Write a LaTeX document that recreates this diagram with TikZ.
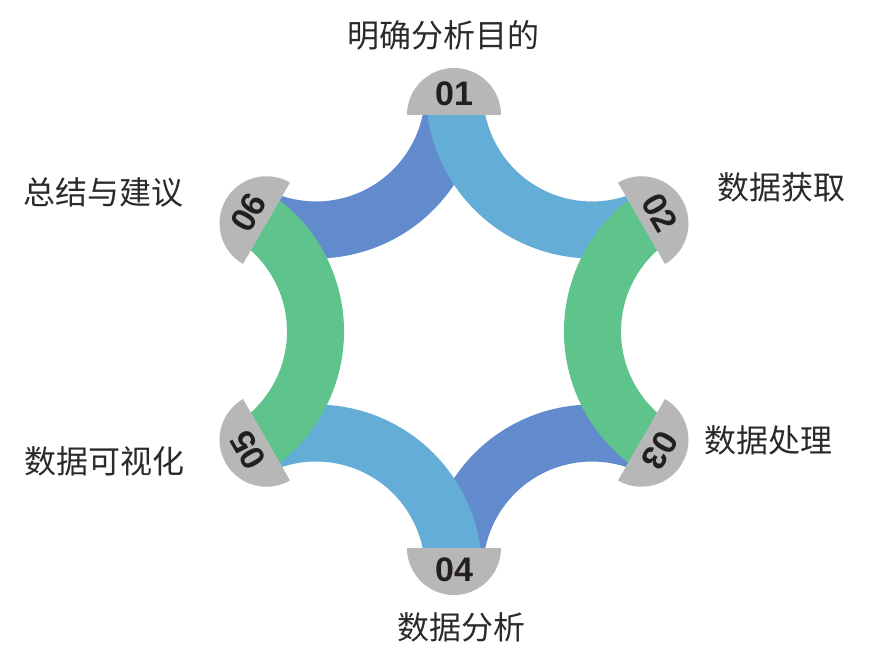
\documentclass[tikz,border=0pt]{standalone}
\usepackage{fontspec}
\setmainfont{Liberation Sans}
\newfontfamily\cjk{Noto Sans CJK SC}
\usetikzlibrary{calc}
\definecolor{dblue}{HTML}{618BCC}
\definecolor{lblue}{HTML}{63ADD6}
\definecolor{bgreen}{HTML}{5EC48B}
\definecolor{capgray}{HTML}{B7B7B7}
\definecolor{numcol}{HTML}{231F20}
\definecolor{labcol}{HTML}{2A2A2A}
\newcommand\bandD{276}
\newcommand\bandRi{166}
\newcommand\bandRo{109}
\newcommand\myband[4]{%
  \fill[#1] ($(C)+(#2:\bandD)+(#3:\bandRi)$)
    arc[start angle=#3, end angle=#4, radius=\bandRi pt]
    -- ($(C)+(#2:\bandD)+(#4:\bandRo)$)
    arc[start angle=#4, end angle=#3, radius=\bandRo pt] -- cycle;}
\newcommand\mycap[1]{%
  \fill[capgray] ($(C)+(#1:216.5)+({#1+90}:47)$)
    arc[start angle={#1+90}, end angle={#1-90}, radius=47pt] -- cycle;}
\begin{document}
\begin{tikzpicture}[x=1pt,y=1pt,
  lab/.style={font=\cjk\fontsize{32}{38}\selectfont, text=labcol, inner sep=0pt, text height=0.76em, text depth=0pt},
  num/.style={font=\bfseries\fontsize{34}{40}\selectfont, text=numcol, inner sep=0pt}]
\useasboundingbox (0,0) rectangle (869,662);
\coordinate (C) at (454,330.5);
\begin{scope}
  \clip ($(C)+(60:250)$) -- ($(C)+(0:250)$) -- ($(C)+(-60:250)$) -- ($(C)+(-120:250)$) -- ($(C)+(180:250)$) -- ($(C)+(120:250)$) -- cycle;
  % dark blue bands
  \myband{dblue}{120}{230}{370}
  \myband{dblue}{-60}{50}{190}
  % light blue bands
  \myband{lblue}{60}{170}{310}
  \myband{lblue}{-120}{-10}{130}
  % green bands
  \myband{bgreen}{0}{110}{250}
  \myband{bgreen}{180}{-70}{70}
\end{scope}
% caps
\mycap{90}
\mycap{30}
\mycap{-30}
\mycap{-90}
\mycap{-150}
\mycap{150}
% numbers
\node[num, rotate=0]    (n1) at ($(C)+(90:237.5)$)   {01};
\node[num, rotate=-60]  (n2) at ($(C)+(30:237.5)$)   {02};
\node[num, rotate=-120] (n3) at ($(C)+(-30:237.5)$)  {03};
\node[num, rotate=0]    (n4) at ($(C)+(-90:238)$)    {04};
\node[num, rotate=120]  (n5) at ($(C)+(-150:237.5)$) {05};
\node[num, rotate=60]   (n6) at ($(C)+(150:237.5)$)  {06};
% labels
\node[lab] (l1) at (443.5,618) {明确分析目的};
\node[lab] (l2) at (781,466.5) {数据获取};
\node[lab] (l3) at (768,213) {数据处理};
\node[lab] (l4) at (461,26) {数据分析};
\node[lab] (l5) at (104,192) {数据可视化};
\node[lab] (l6) at (103,461) {总结与建议};
\end{tikzpicture}
\end{document}
